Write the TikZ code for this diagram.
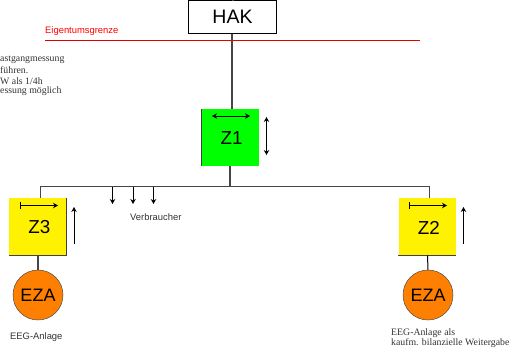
\documentclass[tikz,border=0pt]{standalone}
\usepackage{fontspec}
\setmainfont{Liberation Sans}
\newfontfamily\serifsmall{Liberation Serif}
\usetikzlibrary{arrows.meta}
\definecolor{eza}{RGB}{255,128,0}
\definecolor{lineg}{RGB}{70,70,70}
\tikzset{
  meter/.style={draw=none,minimum width=57.5pt,minimum height=57.5pt,inner sep=0pt,text depth=0pt},
  zlab/.style={inner sep=0pt,font=\fontsize{18.8}{20}\selectfont},
  hakbox/.style={draw=black,line width=1pt,fill=white,minimum width=88pt,minimum height=33pt,inner sep=0pt,font=\fontsize{19.5}{22}\selectfont},
  ezac/.style={circle,draw=black!70,line width=0.5pt,fill=eza,minimum size=50pt,inner sep=0pt,font=\fontsize{18}{20}\selectfont},
  wire/.style={draw=lineg,line width=1.2pt},
  edgeline/.style={draw=black!75,line width=0.6pt},
  arr/.style={draw=black,line width=0.9pt,-{Stealth[length=5pt,width=5.5pt]}},
  arrb/.style={draw=black,line width=0.9pt,{Stealth[length=5pt,width=5.5pt]}-{Stealth[length=5pt,width=5.5pt]}},
  arrbar/.style={draw=black,line width=0.9pt,{Bar[width=7pt]}-{Stealth[length=5pt,width=5.5pt]}},
  lab/.style={inner sep=0pt,anchor=west,text=black!80,font=\fontsize{9.4}{10}\selectfont},
  slab/.style={inner sep=0pt,anchor=west,text=black!80,font=\serifsmall\fontsize{9.8}{10}\selectfont},
}
\begin{document}
\begin{tikzpicture}[x=1pt,y=-1pt]
\useasboundingbox (0,0) rectangle (513,349);
\node[hakbox] (hak) at (232.5,16.5) {HAK};
\coordinate (top) at (233,0);
\draw[wire] (top) -- (hak.north -| top);
\coordinate (rl) at (45,40.5);
\coordinate (rr) at (420,40.5);
\node[meter,fill=green] (z1) at (230.25,137.5) {};
\node[meter,fill=yellow] (z3) at (37.75,226.5) {};
\node[meter,fill=yellow] (z2) at (427.25,226.5) {};
\node[zlab] (z1t) at (231.7,138.3) {Z1};
\node[zlab] (z3t) at (39.3,227.5) {Z3};
\node[zlab] (z2t) at (428.8,227.5) {Z2};
\draw[edgeline] (z1.north west) -- (z1.south west);
\draw[edgeline] (z3.north east) -- (z3.south east) -- (z3.south west);
\draw[edgeline] (z2.south east) -- (z2.south west);
\node[ezac] (e3) at (38,295) {EZA};
\node[ezac] (e2) at (428,295) {EZA};
\coordinate (jc) at (230,186.5);
\coordinate (jl) at (40,186.5);
\coordinate (jr) at (429.5,186.5);
\draw[wire] (hak.south -| 232,0) -- (z1.north -| 232,0);
\draw[wire] (z1.south -| jc) -- (jc);
\draw[wire,line width=1pt] (z3.north -| jl) -- (jl) -- (jr) -- (z2.north -| jr);
\draw[wire] (z3.south -| 38,0) -- (e3.north);
\draw[draw=black,line width=1pt] (z2.south -| 427.5,0) -- (e2.north);
\draw[draw=red!90!black,line width=1pt] (rl) -- (rr);
\node[inner sep=0pt,anchor=west,text=red,font=\fontsize{9.4}{10}\selectfont] (eg) at (45,31) {Eigentumsgrenze};
\coordinate (a1) at (212,116); \coordinate (a2) at (250,116);
\draw[arrb] (a1) -- (a2);
\coordinate (a3) at (266.5,117); \coordinate (a4) at (266.5,155);
\draw[arrb] (a3) -- (a4);
\coordinate (b1) at (20,205.5); \coordinate (b2) at (58,205.5);
\draw[arrbar] (b1) -- (b2);
\coordinate (b3) at (74,244); \coordinate (b4) at (74,207);
\draw[arr] (b3) -- (b4);
\coordinate (c1) at (409,205.5); \coordinate (c2) at (447,205.5);
\draw[arrbar] (c1) -- (c2);
\coordinate (c3) at (463.5,243.5); \coordinate (c4) at (463.5,207);
\draw[arr] (c3) -- (c4);
\foreach \n/\x in {v1/112.5,v2/133,v3/153.5}{
  \coordinate (\n s) at (\x,186.5); \coordinate (\n e) at (\x,204);
  \draw[arr] (\n s) -- (\n e);
}
\node[lab] (vb) at (130,217) {Verbraucher};
\node[lab] (ea) at (10,337) {EEG-Anlage};
\node[slab] (t1) at (0,59.5) {astgangmessung};
\node[slab] (t2) at (0,70) {führen.};
\node[slab] (t3) at (0,81) {W als 1/4h};
\node[slab] (t4) at (0,91.5) {essung möglich};
\node[slab] (t5) at (391,333) {EEG-Anlage als};
\node[slab] (t6) at (391,343.5) {kaufm. bilanzielle Weitergabe};
\end{tikzpicture}
\end{document}
